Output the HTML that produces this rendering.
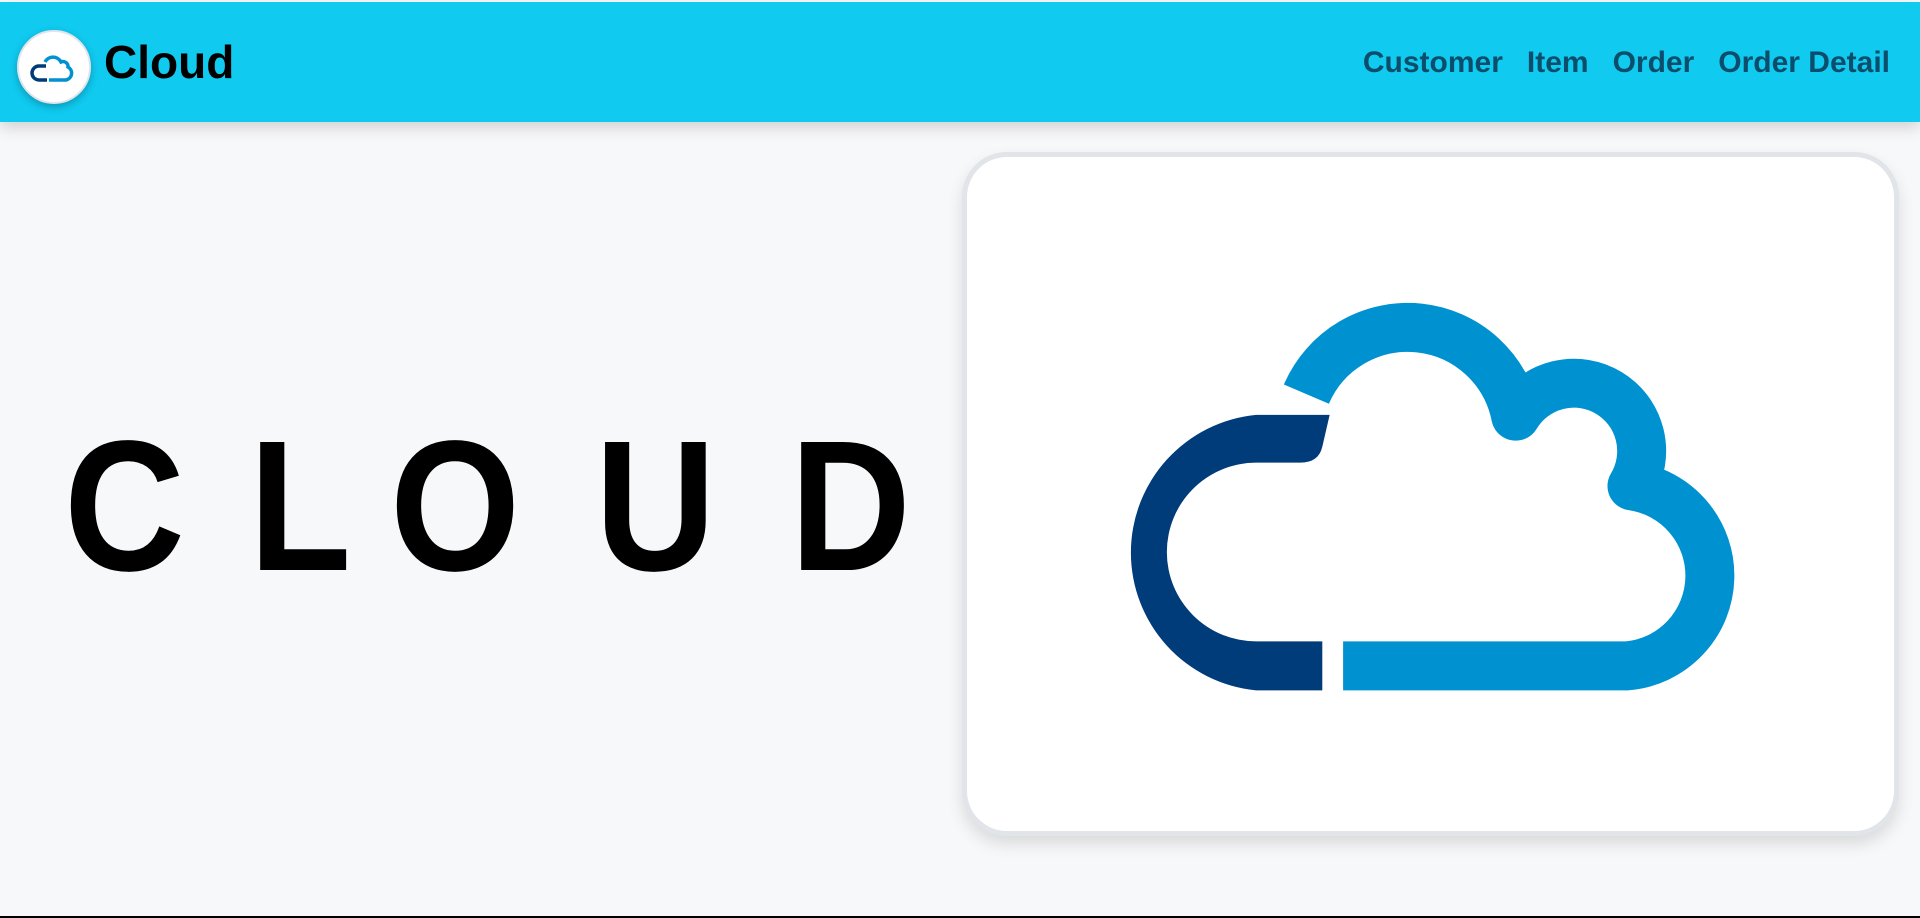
<!DOCTYPE html>
<html><head><meta charset="utf-8"><style>
html,body{margin:0;padding:0;}
body{width:1920px;height:918px;background:#f7f8fa;position:relative;overflow:hidden;font-family:"Liberation Sans",sans-serif;border-bottom:2px solid #000;box-sizing:border-box;}
.hdr{position:absolute;left:0;top:2px;width:1920px;height:120px;background:#10caf0;box-shadow:0 6px 14px rgba(0,0,0,0.15);}
.logo{position:absolute;left:17px;top:28px;width:70px;height:70px;border-radius:50%;background:#fff;border:2px solid #dfe5ea;box-shadow:0 3px 8px rgba(0,0,0,0.25);}
.brand{position:absolute;left:104px;top:33px;font-size:46px;font-weight:bold;color:#000;}
.nav{position:absolute;right:30px;top:44px;font-size:30px;font-weight:bold;color:#0b4d6b;}
.nav span{margin-left:24px;}
.big{position:absolute;top:414px;font-size:186px;font-weight:bold;color:#000;line-height:1;transform:scaleX(0.9);transform-origin:left top;}
.card{position:absolute;left:962px;top:152px;width:937px;height:684px;box-sizing:border-box;background:#fff;border:5px solid #e1e4e8;border-radius:45px;box-shadow:0 8px 16px rgba(0,0,0,0.12);}
</style></head><body>
<div class="hdr">
<div class="logo"><svg width="70" height="70" viewBox="0 0 70 70">
<path d="M28 48 L20 48 A7 7 0 0 1 20 34 L27 34" fill="none" stroke="#003b78" stroke-width="3.5"/>
<path d="M26 30 A9 9 0 0 1 42 30 A5 5 0 0 1 49 35 A7 7 0 0 1 47 48 L30 48" fill="none" stroke="#0092d0" stroke-width="3.5"/>
</svg></div>
<div class="brand">Cloud</div>
<div class="nav"><span>Customer</span><span>Item</span><span>Order</span><span>Order Detail</span></div>
</div>
<div class="big" style="left:64px">C</div>
<div class="big" style="left:249px">L</div>
<div class="big" style="left:390px">O</div>
<div class="big" style="left:595px">U</div>
<div class="big" style="left:790px">D</div>
<div class="card"></div>
<svg style="position:absolute;left:0;top:0" width="1920" height="918" viewBox="0 0 1568 750">
<path d="M1080,564 L1026,564 A113,113 0 0 1 1026,339 L1086,339 L1080,365 Q1077,378 1062,378 L1026,378 A73,73 0 0 0 1026,524 L1080,524 Z" fill="#003b7a"/>
<path d="M1067,322 A90,90 0 0 1 1238,340 A43,43 0 1 1 1333,397 A74,74 0 0 1 1329,544 L1097,544" fill="none" stroke="#0092d0" stroke-width="40" stroke-linejoin="round"/>
</svg>
</body></html>
